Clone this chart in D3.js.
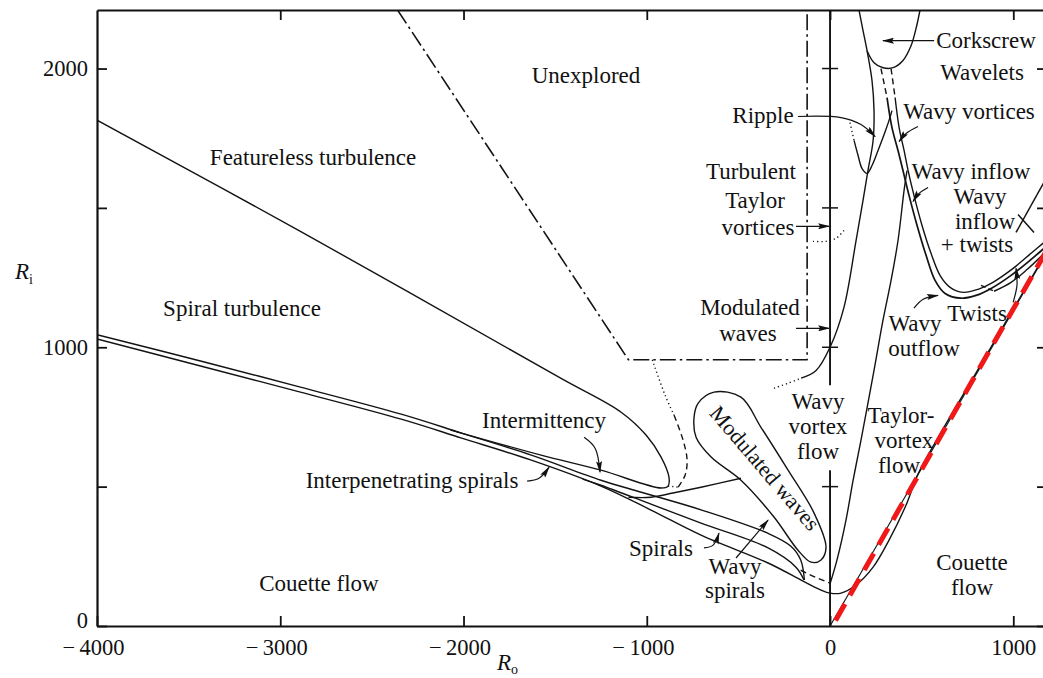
<!DOCTYPE html>
<html><head><meta charset="utf-8">
<script src="https://cdn.jsdelivr.net/npm/d3@7"></script>
<style>
body{margin:0;background:#fff;}
svg text{font-family:"Liberation Serif","Times New Roman",serif;fill:#111;}
</style></head><body>
<svg id="chart" width="1043" height="678"></svg>
<script>
// ---------- axis ticks ----------
const xTicks=[-4000,-3000,-2000,-1000,0,1000];
const yTicks=[0,500,1000,1500,2000];
const yLabels=[0,1000,2000];

// ---------- regime boundaries (Ro, Ri) ----------
const couetteBoundary=[[-4000,1030],[-3430,932],[-2890,839],[-2340,742],[-2010,674],[-1630,595],[-1250,502],[-977,416],[-704,326],[-338,226],[-147,161],[-49,129],[0,118],[60,118],[142,147],[235,211],[322,308],[415,434],[480,545],[600,688],[800,912],[1180,1340]];
const spiralUpper=[[-4000,1045],[-3430,950],[-2890,857],[-2340,760],[-2010,692],[-1630,613],[-1250,523],[-1030,480],[-700,416],[-340,333],[-215,287],[-160,237],[-140,165]];
const spiralMid=[[-1350,527],[-1250,505],[-977,437],[-704,369],[-338,280],[-186,211],[-142,165]];
const featureless=[[-4000,1815],[-2890,1416],[-1470,889],[-1140,767],[-1004,685],[-922,606],[-879,534],[-884,502],[-922,495],[-1250,559],[-1577,613],[-2070,703]];
const unexplored=[[-2360,2210],[-1100,955],[-125,955],[-125,2210]];
const dottedLink=[[-970,955],[-900,828],[-851,756]];
const dashedLink=[[-851,756],[-802,667],[-780,595],[-791,541],[-829,498]];
const tipDots=[[-884,502],[-829,498]];
const toBubble=[[-1100,462],[-977,462],[-857,477],[-704,498],[-486,530]];
const modBubble=[[-742,749],[-720,799],[-633,839],[-486,821],[-377,713],[-229,559],[-87,405],[-22,283],[-49,237],[-104,229],[-175,272],[-306,391],[-486,523],[-649,606],[-731,677]];
const bubbleDash=[[-160,200],[-80,175],[0,154]];
const tvfWvf=[[0,151],[38,237],[87,380],[126,523],[169,667],[240,917],[289,1097],[333,1240],[371,1383],[404,1563],[420,1634]];
const wvfMwvDots=[[-306,853],[-229,871],[-158,889]];
const wvfMwv=[[-158,889],[-76,917],[0,1000],[76,1143],[142,1383],[180,1527],[207,1634],[235,1742],[240,1849],[229,1957],[202,2064],[180,2136],[158,2210]];
const corkscrew=[[202,2064],[240,2021],[289,2003],[344,2003],[398,2029],[442,2082],[469,2143],[491,2210]];
const wavyVortDashOuter=[[278,2000],[311,1896]];
const wavyVortDashInner=[[333,2000],[355,1896]];
const pairOuter=[[311,1896],[338,1788],[371,1706],[398,1634],[431,1545],[475,1437],[524,1330],[573,1240],[628,1193],[715,1176],[797,1186],[879,1211],[988,1258],[1097,1315],[1180,1362]];
const pairInner=[[355,1896],[377,1788],[404,1706],[426,1634],[458,1545],[502,1437],[551,1337],[600,1258],[655,1215],[726,1197],[808,1208],[889,1233],[999,1283],[1097,1337],[1180,1383]];
const rippleDots=[[109,1806],[131,1742]];
const ripple=[[131,1742],[153,1688],[175,1641],[202,1624],[229,1652],[262,1706],[295,1763],[322,1814],[338,1849]];
const ttvDots=[[-93,1380],[-22,1380],[33,1391],[76,1419]];
const inflowCross1=[[1015,1412],[1179,1606]];
const inflowCross2=[[1026,1476],[1113,1412]];
const twistsDash=[[824,1222],[895,1201]];
const twistsLine=[[895,1201],[988,1233],[1070,1276],[1168,1337]];
const rayleigh=[[0,0],[1180,1336]];
const redLine=[[30,20],[1180,1345]];
const roZeroUpper=[[0,2210],[0,864]];
const roZeroLower=[[0,559],[0,0]];

// ---------- arrows (Ro, Ri) ----------
const arrows=[
 [[568,2100],[289,2100]],
 [[-175,1828],[60,1824],[169,1799],[246,1756]],
 [[480,1792],[415,1767],[377,1738]],
 [[535,1573],[486,1552],[453,1523]],
 [[-186,1434],[-5,1434]],
 [[-186,1068],[-5,1068]],
 [[-1342,677],[-1282,638],[-1255,552]],
 [[-1653,520],[-1588,530],[-1533,570]],
 [[-688,280],[-638,290],[-606,333]],
 [[-513,244],[-338,380]],
 [[458,1140],[508,1172],[589,1186]],
 [[999,1161],[1020,1222],[1015,1283]]
];

// ---------- text annotations (layout, px) ----------
const labels=[
 ['Unexplored',586,83],['Featureless turbulence',313,165],['Spiral turbulence',242,316],
 ['Intermittency',544,428],['Interpenetrating spirals',412,488],['Spirals',661,556],
 ['Wavy',735,574],['spirals',735,598],['Couette flow',319,591],
 ['Couette',972,570],['flow',972,595],
 ['Wavy',818,409],['vortex',818,434],['flow',818,459],
 ['Taylor-',901,423],['vortex',904,448],['flow',899,473],
 ['Wavy',915,331],['outflow',924,356],['Twists',977,321],
 ['Modulated',750,315],['waves',748,341],
 ['Turbulent',751,179],['Taylor',755,208],['vortices',758,235],
 ['Ripple',763,123],['Corkscrew',986,48],['Wavelets',982,80],
 ['Wavy vortices',969,119],['Wavy inflow',971,179],
 ['Wavy',980,204],['inflow',985,229],['+ twists',977,252]
];

const svg=d3.select('#chart');
const x=d3.scaleLinear().domain([-4000,1173]).range([97,1045]);
const y=d3.scaleLinear().domain([0,2210]).range([626,10]);
const smooth=d3.line().x(d=>x(d[0])).y(d=>y(d[1])).curve(d3.curveCatmullRom.alpha(0.5));
const straight=d3.line().x(d=>x(d[0])).y(d=>y(d[1]));
const closed=d3.line().x(d=>x(d[0])).y(d=>y(d[1])).curve(d3.curveCatmullRomClosed.alpha(0.5));

const defs=svg.append('defs');
defs.append('clipPath').attr('id','plot').append('rect')
 .attr('x',x(-4000)).attr('y',y(2210)).attr('width',x(1173)-x(-4000)).attr('height',y(0)-y(2210));
defs.append('marker').attr('id','ah').attr('viewBox','0 0 12 6').attr('refX',11).attr('refY',3)
 .attr('markerWidth',13).attr('markerHeight',6).attr('markerUnits','userSpaceOnUse').attr('orient','auto')
 .append('path').attr('d','M0,0L12,3L0,6L2,3Z').attr('fill','#111');

const g=svg.append('g').attr('clip-path','url(#plot)');
const ink='#131313';
function draw(data,gen,opt={}){
  return g.append('path').attr('d',gen(data)).attr('fill','none').attr('stroke',opt.color||ink)
   .attr('stroke-width',opt.w||1.4).attr('stroke-dasharray',opt.dash||null)
   .attr('stroke-linecap',opt.cap||'butt').attr('stroke-linejoin','round');
}
const DOT='1.2,3', DASH='6,4';

draw(rayleigh,straight,{w:1.1});
draw(couetteBoundary,smooth);
draw(spiralUpper,smooth);
draw(spiralMid,smooth);
draw(featureless,smooth);
draw(unexplored,straight,{w:1.6,dash:'16,4,2.5,4'});
draw(dottedLink,smooth,{dash:DOT});
draw(dashedLink,smooth,{dash:DASH});
draw(tipDots,straight,{dash:DOT});
draw(toBubble,smooth);
draw(modBubble,closed);
draw(bubbleDash,smooth,{dash:DASH});
draw(tvfWvf,smooth);
draw(wvfMwvDots,smooth,{dash:DOT});
draw(wvfMwv,smooth);
draw(corkscrew,smooth);
draw(wavyVortDashOuter,straight,{dash:DASH});
draw(wavyVortDashInner,straight,{dash:DASH});
draw(pairOuter,smooth,{w:1.7});
draw(pairInner,smooth);
draw(rippleDots,straight,{dash:DOT});
draw(ripple,smooth);
draw(ttvDots,smooth,{dash:DOT});
draw(inflowCross1,straight,{w:1.5});
draw(inflowCross2,straight,{w:1.5});
draw(twistsDash,straight,{dash:'5,3'});
draw(twistsLine,smooth);
draw(roZeroUpper,straight,{w:1.9});
draw(roZeroLower,straight,{w:1.9});
// cross ticks on the Ro = 0 line
yTicks.filter(v=>v>0).forEach(v=>{
  g.append('line').attr('x1',x(0)-8).attr('x2',x(0)+8).attr('y1',y(v)).attr('y2',y(v))
   .attr('stroke',ink).attr('stroke-width',1.5);
});
arrows.forEach(a=>{
  draw(a,a.length>2?smooth:straight,{w:1.2}).attr('marker-end','url(#ah)');
});
draw(redLine,straight,{color:'#f01818',w:5,dash:'19,10'});

// ---------- axes ----------
const fmt=d=>d<0?'\u2212\u2009'+Math.abs(d):String(d);
function styleAxis(sel){
  sel.attr('font-family','"Liberation Serif","Times New Roman",serif').attr('font-size',22.5);
  sel.select('.domain').attr('stroke','#111').attr('stroke-width',2.2);
  sel.selectAll('.tick line').attr('stroke','#111').attr('stroke-width',1.8);
  sel.selectAll('.tick text').attr('fill','#111');
}
const gB=svg.append('g').attr('transform',`translate(0,${y(0)})`)
 .call(d3.axisBottom(x).tickValues(xTicks).tickSizeInner(-10).tickSizeOuter(0).tickPadding(13).tickFormat(fmt));
styleAxis(gB);
gB.selectAll('.tick text').attr('dx',d=>d<0?-4:0);
const gT=svg.append('g').attr('transform',`translate(0,${y(2210)})`)
 .call(d3.axisTop(x).tickValues(xTicks.filter(v=>v>-4000)).tickSizeInner(-10).tickSizeOuter(0).tickFormat(''));
styleAxis(gT);
const gL=svg.append('g').attr('transform',`translate(${x(-4000)},0)`)
 .call(d3.axisLeft(y).tickValues(yTicks).tickSizeInner(-10).tickSizeOuter(0).tickPadding(9)
 .tickFormat(d=>yLabels.includes(d)?String(d):''));
styleAxis(gL);
gL.selectAll('.tick text').attr('dy',d=>d===0?'0.05em':'0.32em');
const gR=svg.append('g').attr('transform',`translate(${x(1173)},0)`)
 .call(d3.axisRight(y).tickValues(yTicks).tickSizeInner(-8).tickSizeOuter(0).tickFormat(''));
styleAxis(gR);

// ---------- labels ----------
const tg=svg.append('g').attr('font-size',23).attr('text-anchor','middle');
labels.forEach(([t,px,py])=>tg.append('text').attr('x',px).attr('y',py).text(t));
tg.append('text').attr('transform','translate(765,468) rotate(49.5)').attr('dy','0.35em')
 .attr('font-size',22).text('Modulated waves');

const ri=svg.append('text').attr('x',15).attr('y',279).attr('font-size',23).attr('font-style','italic');
ri.append('tspan').text('R');
ri.append('tspan').attr('font-style','normal').attr('font-size',14).attr('dy',5).text('i');
const ro=svg.append('text').attr('x',497).attr('y',670).attr('font-size',23).attr('font-style','italic');
ro.append('tspan').text('R');
ro.append('tspan').attr('font-style','normal').attr('font-size',14).attr('dy',4).text('o');
</script>
</body></html>
